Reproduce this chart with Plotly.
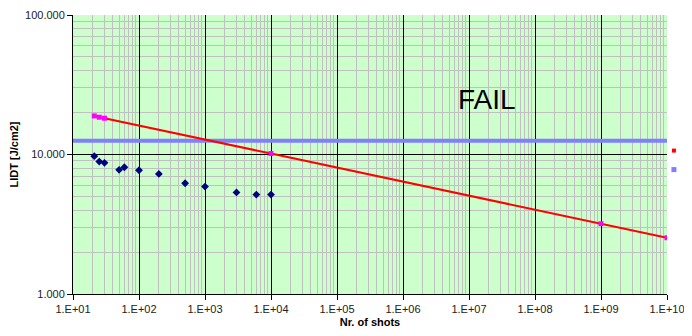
import plotly.graph_objects as go

# Measured LIDT data
shots = [21, 25, 30, 50, 60, 100, 200, 500, 1000, 3000, 6000, 10000]
lidt = [9.72, 8.9, 8.71, 7.76, 8.1, 7.71, 7.26, 6.22, 5.89, 5.35, 5.16, 5.16]

# Fit (power law) points
fit_shots = [21, 25, 30, 10000, 1e9, 1e10]
fit_lidt = [18.9, 18.5, 18.2, 10.16, 3.19, 2.53]

# Threshold / specification line
spec_shots = [10, 1e10]
spec_lidt = [12.55, 12.55]

x_tickvals = [10 ** d for d in range(1, 11)]
x_ticktext = ["1.E+%02d" % d for d in range(1, 11)]
y_tickvals = [1, 10, 100]
y_ticktext = ["1.000", "10.000", "100.000"]

x_minor = [k * 10 ** d for d in range(1, 10) for k in range(2, 10)]
y_minor = [k * 10 ** d for d in range(0, 2) for k in range(2, 10)]

FONT = "Arial, Liberation Sans, sans-serif"

fig = go.Figure()
fig.add_trace(go.Scatter(x=spec_shots, y=spec_lidt, mode="lines",
                         line=dict(color="#8080FF", width=4), showlegend=False,
                         hoverinfo="skip"))
fig.add_trace(go.Scatter(x=fit_shots, y=fit_lidt, mode="lines+markers",
                         line=dict(color="#FF0000", width=2),
                         marker=dict(color="#FF00FF", symbol="square", size=5),
                         showlegend=False))
fig.add_trace(go.Scatter(x=shots, y=lidt, mode="markers",
                         marker=dict(color="#000080", symbol="diamond", size=6),
                         showlegend=False))
# legend-only entries (legend is clipped at right edge like the original)
fig.add_trace(go.Scatter(x=[None], y=[None], mode="markers", name="Power (fit)",
                         marker=dict(color="#FF0000", symbol="square", size=4)))
fig.add_trace(go.Scatter(x=[None], y=[None], mode="markers", name="Specification",
                         marker=dict(color="#8080FF", symbol="square", size=5)))

fig.add_annotation(x=7.27, y=1.396, xref="x", yref="y", text="FAIL", showarrow=False,
                   font=dict(family=FONT, size=28, color="#000000"))

fig.update_layout(
    width=692, height=336,
    margin=dict(l=65, r=33, t=7, b=50, autoexpand=False),
    paper_bgcolor="white",
    plot_bgcolor="#CCFFCC",
    font=dict(family=FONT, size=11, color="#000000"),
    showlegend=True,
    legend=dict(x=0.978, xanchor="left", y=0.48, yanchor="middle",
                font=dict(size=6), itemwidth=30, tracegroupgap=0,
                bgcolor="rgba(0,0,0,0)"),
    xaxis=dict(type="log", range=[1, 10], tickmode="array",
               tickvals=x_tickvals, ticktext=x_ticktext,
               showgrid=True, gridcolor="#000000", gridwidth=1,
               ticks="outside", ticklen=5, tickcolor="#000000",
               showline=True, linecolor="#000000", linewidth=1,
               minor=dict(tickmode="array", tickvals=x_minor, showgrid=True,
                          gridcolor="#C0C0C0", gridwidth=1, ticks=""),
               title=dict(text="<b>Nr. of shots</b>", font=dict(size=11), standoff=4),
               tickfont=dict(size=11, color="#222222")),
    yaxis=dict(type="log", range=[0, 2], tickmode="array",
               tickvals=y_tickvals, ticktext=y_ticktext,
               showgrid=True, gridcolor="#000000", gridwidth=1,
               ticks="outside", ticklen=5, tickcolor="#000000",
               showline=True, linecolor="#000000", linewidth=1,
               minor=dict(tickmode="array", tickvals=y_minor, showgrid=True,
                          gridcolor="#C0C0C0", gridwidth=1, ticks=""),
               title=dict(text="<b>LIDT [J/cm2]</b>", font=dict(size=11), standoff=4),
               tickfont=dict(size=11, color="#222222")),
)

fig.write_html("out.html")
